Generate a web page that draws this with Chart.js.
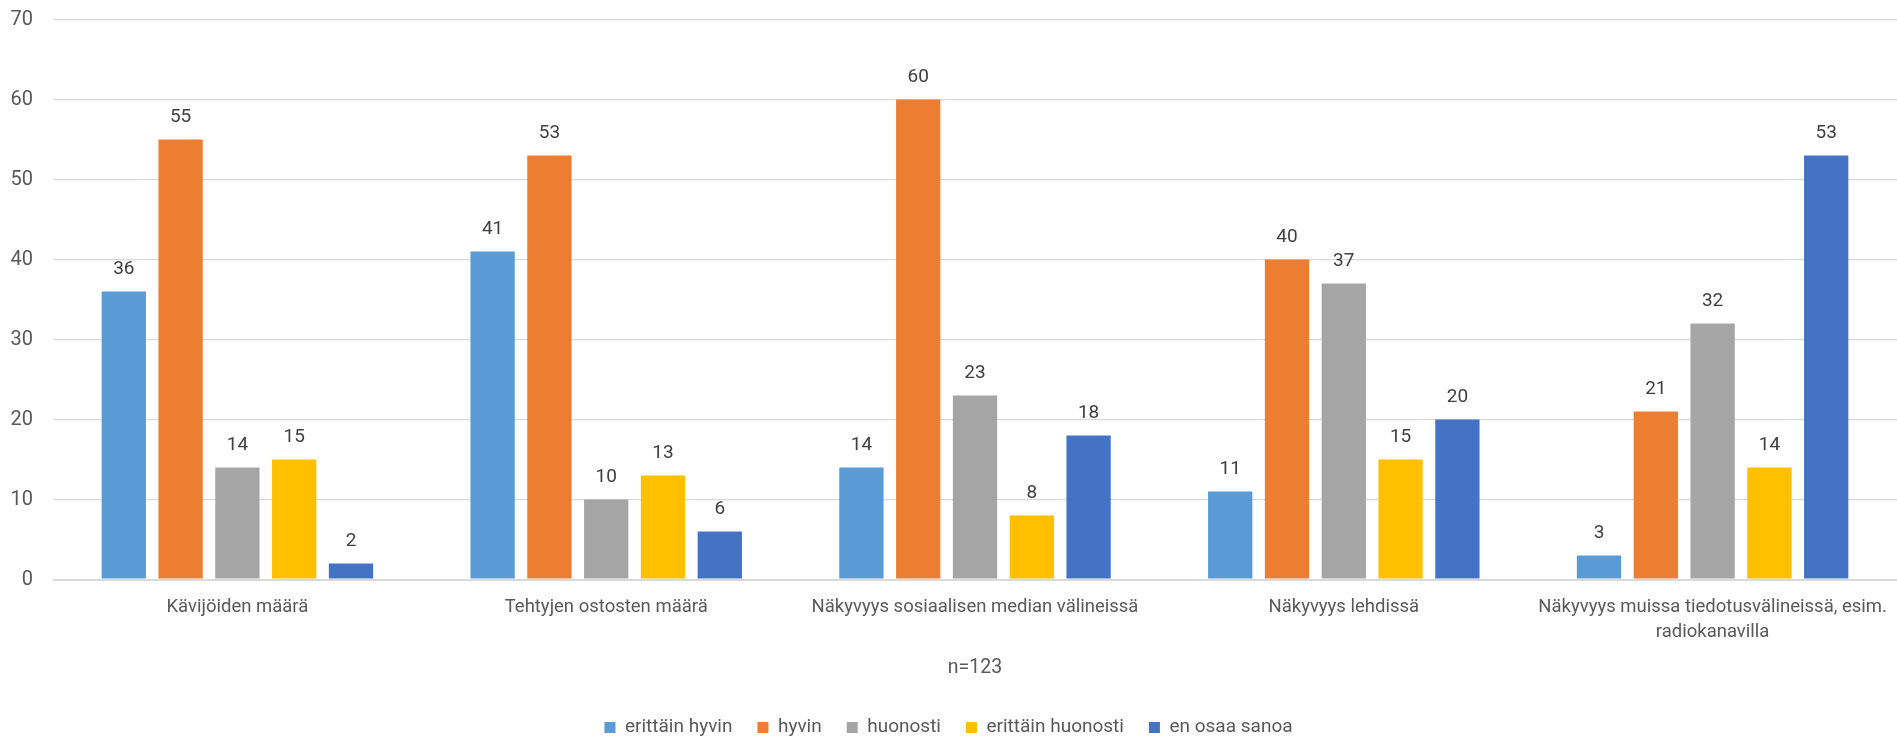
<!DOCTYPE html>
<html>
<head>
<meta charset="utf-8">
<script src="https://cdn.jsdelivr.net/npm/chart.js@4"></script>
<style>
  body { margin: 0; background: #fff; overflow: hidden; }
</style>
</head>
<body>
<canvas id="chart" width="1897" height="739"></canvas>
<script>
const categories = [
  "Kävijöiden määrä",
  "Tehtyjen ostosten määrä",
  "Näkyvyys sosiaalisen median välineissä",
  "Näkyvyys lehdissä",
  ["Näkyvyys muissa tiedotusvälineissä, esim.", "radiokanavilla"],
];
const seriesNames = ["erittäin hyvin", "hyvin", "huonosti", "erittäin huonosti", "en osaa sanoa"];
const erittainHyvin = [36, 41, 14, 11, 3];
const hyvin = [55, 53, 60, 40, 21];
const huonosti = [14, 10, 23, 37, 32];
const erittainHuonosti = [15, 13, 8, 15, 14];
const enOsaaSanoa = [2, 6, 18, 20, 53];
const colors = ["#5B9BD5", "#ED7D31", "#A5A5A5", "#FFC000", "#4472C4"];
const yTicksMax = 70;
const yStep = 10;
const sampleNote = "n=123";

const FONT = "Roboto, 'Liberation Sans', sans-serif";
const TEXT = "#595959";

const allValues = [erittainHyvin, hyvin, huonosti, erittainHuonosti, enOsaaSanoa];

// arvot pylväiden päälle
const valueLabels = {
  id: "valueLabels",
  afterDatasetsDraw(chart) {
    const ctx = chart.ctx;
    ctx.save();
    ctx.font = "19px " + FONT;
    ctx.fillStyle = "#404040";
    ctx.textAlign = "center";
    ctx.textBaseline = "middle";
    chart.data.datasets.forEach((ds, i) => {
      chart.getDatasetMeta(i).data.forEach((bar, j) => {
        ctx.fillText(ds.data[j], bar.x, bar.y - 22);
      });
    });
    ctx.restore();
  },
};

const myChart = new Chart(document.getElementById("chart"), {
  type: "bar",
  data: {
    labels: categories,
    datasets: seriesNames.map((name, i) => ({
      label: name,
      data: allValues[i],
      backgroundColor: colors[i],
      borderWidth: 0,
      barPercentage: 0.78,
      categoryPercentage: 0.77,
    })),
  },
  options: {
    responsive: false,
    animation: false,
    devicePixelRatio: 1,
    layout: { padding: { top: 19.5, left: 0, right: 0, bottom: -8 } },
    plugins: {
      tooltip: { enabled: false },
      legend: {
        position: "bottom",
        labels: {
          boxWidth: 11,
          boxHeight: 11,
          padding: 25,
          color: TEXT,
          font: { family: FONT, size: 19 },
        },
      },
    },
    scales: {
      x: {
        grid: { display: false, drawTicks: false },
        border: { display: false },
        ticks: {
          color: TEXT,
          font: { family: FONT, size: 18.5, lineHeight: "25px" },
          padding: 15.5,
          maxRotation: 0,
          autoSkip: false,
        },
        title: {
          display: true,
          text: sampleNote,
          color: TEXT,
          font: { family: FONT, size: 19.5, lineHeight: 1.2 },
          padding: { top: 11.5, bottom: 13 },
        },
        afterFit(s) {
          s.paddingLeft = 0;
          s.paddingRight = 0;
          s.height = 113.5;
        },
      },
      y: {
        min: 0,
        max: yTicksMax,
        ticks: {
          stepSize: yStep,
          color: TEXT,
          font: { family: FONT, size: 20 },
          padding: 20,
        },
        grid: {
          drawTicks: false,
          color: "#d9d9d9",
          lineWidth: (c) => (c.tick && c.tick.value === 0 ? 2 : 1.25),
        },
        border: { display: false },
        afterFit(s) {
          s.width = 53;
          s.paddingTop = 0;
          s.paddingBottom = 0;
        },
      },
    },
  },
  plugins: [valueLabels],
});
</script>
</body>
</html>
